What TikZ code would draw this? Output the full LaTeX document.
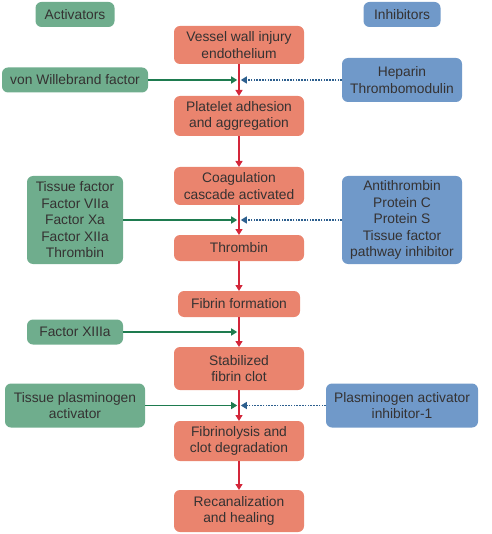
\documentclass[tikz,border=0pt]{standalone}
\usepackage{fontspec}
\setmainfont{Liberation Sans}
\usetikzlibrary{calc}
\usetikzlibrary{positioning}
\usetikzlibrary{arrows.meta}

\definecolor{stagefill}{HTML}{EA846E}
\definecolor{actfill}{HTML}{6FAD8D}
\definecolor{inhfill}{HTML}{7099C9}
\definecolor{boxtext}{HTML}{353232}
\definecolor{redline}{HTML}{D3263A}
\definecolor{greenline}{HTML}{1E7B4F}
\definecolor{blueline}{HTML}{2D5F8E}

\begin{document}
\begin{tikzpicture}[x=1pt, y=1pt]

\tikzset{
    box/.style={rounded corners=6pt, text=boxtext, align=center, inner sep=2pt, outer sep=0pt,
                font=\fontsize{13.8}{16.5}\selectfont},
    stage/.style={box, fill=stagefill, minimum width=130pt, minimum height=#1},
    act/.style={box, fill=actfill, minimum width=#1},
    inh/.style={box, fill=inhfill, minimum width=#1}
}

\tikzset{
    stagearrow/.style={-{Triangle[length=6pt, width=7pt]}, redline, line width=1.3pt},
    actarrow/.style={-{Triangle[length=6pt, width=7pt]}, greenline, line width=1.3pt, shorten >=1.8pt},
    inharrow/.style={-{Triangle[length=6pt, width=7pt]}, blueline, line width=1.3pt,
                     dash pattern=on 1.6pt off 1.2pt, shorten >=1.8pt}
}

\useasboundingbox (0,0) rectangle (491,-534);

%column positions
\coordinate (actx) at (75,0);
\coordinate (inhx) at (402,0);

%headers
\node[act=79pt, minimum height=25pt] (acthead) at (75,-14.5) {Activators};
\node[inh=77pt, minimum height=25pt] (inhhead) at (402,-14.5) {Inhibitors};

%central chain
\node[stage=38pt] (vessel) at (239,-45) {Vessel wall injury\\endothelium};
\node[stage=40pt, below=32pt of vessel] (platelet) {Platelet adhesion\\and aggregation};
\node[stage=38pt, below=31pt of platelet] (coag) {Coagulation\\cascade activated};
\node[stage=26pt, below=30pt of coag] (thrombin) {Thrombin};
\node[stage=26pt, minimum width=122pt, below=30pt of thrombin] (fibrin) {Fibrin formation};
\node[stage=43pt, below=30pt of fibrin] (clot) {Stabilized\\fibrin clot};
\node[stage=40pt, below=31pt of clot] (lysis) {Fibrinolysis and\\clot degradation};
\node[stage=42pt, below=29pt of lysis] (heal) {Recanalization\\and healing};

\draw[stagearrow] (vessel) -- (platelet);
\draw[stagearrow] (platelet) -- (coag);
\draw[stagearrow] (coag) -- (thrombin);
\draw[stagearrow] (thrombin) -- (fibrin);
\draw[stagearrow] (fibrin) -- (clot);
\draw[stagearrow] (clot) -- (lysis);
\draw[stagearrow] (lysis) -- (heal);

%junctions on the red line
\coordinate (j1) at ($(vessel.south)!0.5!(platelet.north)$);
\coordinate (j2) at ($(coag.south)!0.5!(thrombin.north)$);
\coordinate (j3) at ($(fibrin.south)!0.5!(clot.north)$);
\coordinate (j4) at ($(clot.south)!0.5!(lysis.north)$);

%activators
\node[act=146pt, minimum height=25pt] (vwf) at (actx |- j1) {von Willebrand factor};
\node[act=96pt, minimum height=88pt] (tf) at (actx |- j2) {Tissue factor\\Factor VIIa\\Factor Xa\\Factor XIIa\\Thrombin};
\node[act=96pt, minimum height=25pt] (f13) at (actx |- j3) {Factor XIIIa};
\node[act=140pt, minimum height=44pt] (tpa) at (actx |- j4) {Tissue plasminogen\\activator};

\draw[actarrow] (vwf) -- (j1);
\draw[actarrow] (tf) -- (j2);
\draw[actarrow] (f13) -- (j3);
\draw[actarrow] (tpa) -- (j4);

%inhibitors
\node[inh=120pt, minimum height=44pt] (hep) at (inhx |- j1) {Heparin\\Thrombomodulin};
\node[inh=120pt, minimum height=88pt] (at3) at (inhx |- j2) {Antithrombin\\Protein C\\Protein S\\Tissue factor\\pathway inhibitor};
\node[inh=152pt, minimum height=44pt] (pai) at (inhx |- j4) {Plasminogen activator\\inhibitor-1};

\draw[inharrow] (hep) -- (j1);
\draw[inharrow] (at3) -- (j2);
\draw[inharrow] (pai) -- (j4);

\end{tikzpicture}
\end{document}
